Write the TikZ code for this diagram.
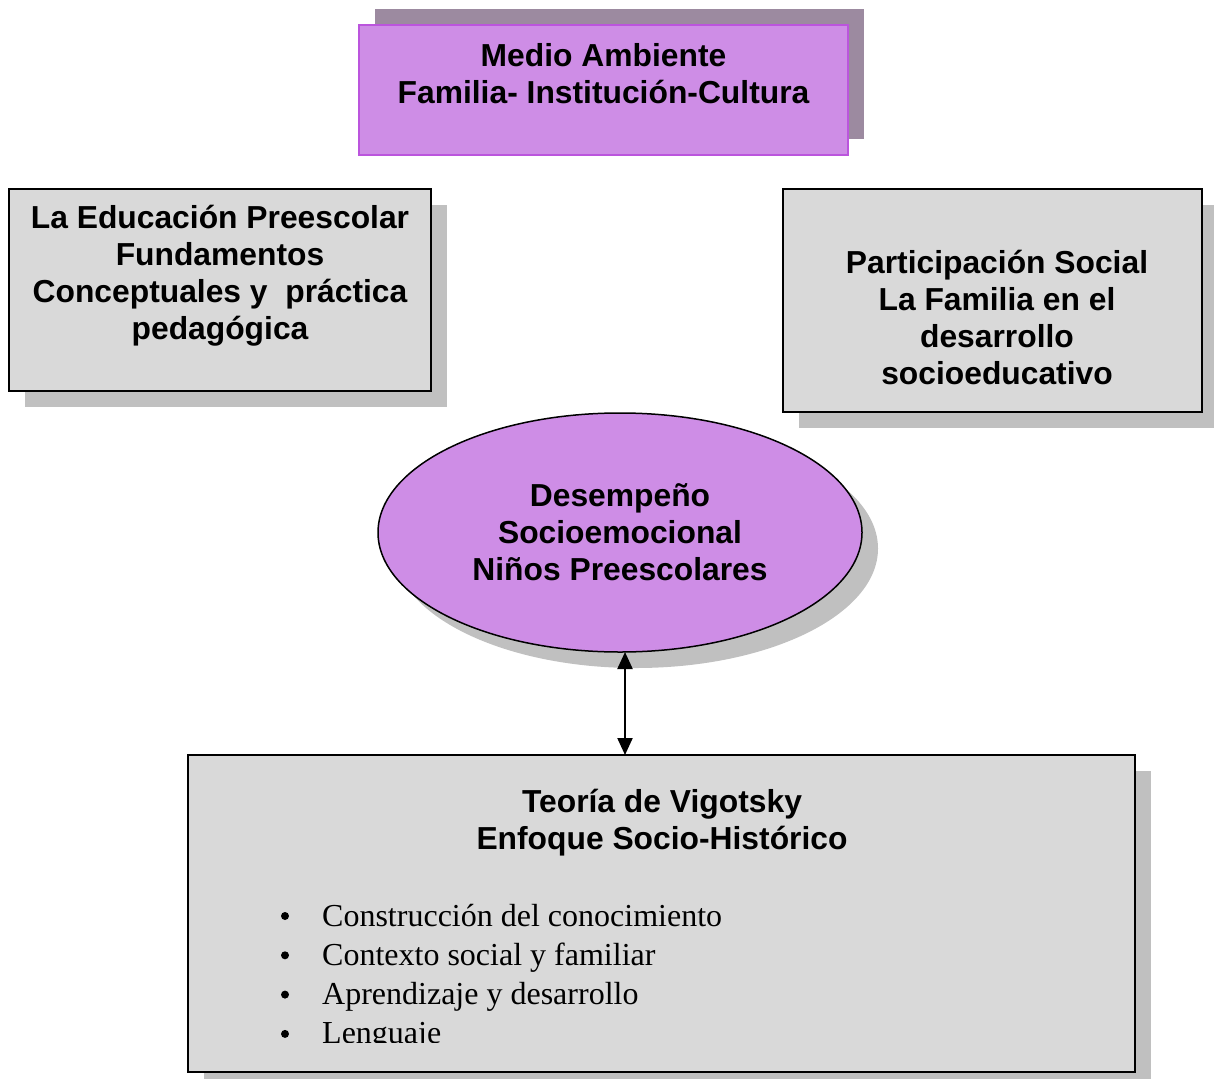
\documentclass[tikz,border=0pt]{standalone}
\usepackage{fontspec}
\setmainfont{Liberation Serif}
\setsansfont{Liberation Sans}
\usetikzlibrary{shapes.geometric,arrows.meta,shadows}
\definecolor{purplefill}{RGB}{206,141,230}
\definecolor{purpleline}{RGB}{187,85,221}
\definecolor{purpleshadow}{RGB}{156,138,160}
\definecolor{boxgray}{RGB}{217,217,217}
\definecolor{shadowgray}{RGB}{192,192,192}
\tikzset{
  graybox/.style={draw=black, line width=1.5pt, fill=boxgray, inner sep=0pt, outer sep=0pt,
    drop shadow={shadow xshift=16pt, shadow yshift=-16pt, fill=shadowgray, opacity=1}},
  topbox/.style={draw=purpleline, line width=2pt, fill=purplefill, inner sep=0pt, outer sep=0pt,
    drop shadow={shadow xshift=16pt, shadow yshift=16pt, fill=purpleshadow, opacity=1}},
  ellbox/.style={ellipse, draw=black, line width=1.5pt, fill=purplefill, inner sep=0pt, outer sep=0pt,
    drop shadow={shadow xshift=16pt, shadow yshift=-16pt, fill=shadowgray, opacity=1}},
  bold/.style={font=\sffamily\bfseries\fontsize{31.8}{37}\selectfont, align=center, inner sep=0pt},
  item/.style={font=\fontsize{32}{39}\selectfont, anchor=base west, inner sep=0pt},
  bul/.style={circle, fill=black, minimum size=8pt, inner sep=0pt},
  arr/.style={line width=2.2pt, {Triangle[width=15pt,length=17pt]}-{Triangle[width=15pt,length=17pt]}}
}
\begin{document}
\begin{tikzpicture}[x=1pt,y=-1pt]
\useasboundingbox (0,0) rectangle (1214,1078);
% boxes
\node[topbox, minimum width=489pt, minimum height=130pt] (top) at (603.5,90) {};
\node[graybox, minimum width=422pt, minimum height=202pt] (left) at (220,290) {};
\node[graybox, minimum width=419pt, minimum height=223pt] (right) at (992.5,300.5) {};
\node[ellbox, minimum width=484pt, minimum height=239pt] (ell) at (620,532.5) {};
\node[graybox, minimum width=947pt, minimum height=317pt] (bot) at (661.5,913.5) {};
% texts
\node[bold] (toptxt) at (603.5,74) {Medio Ambiente\\Familia- Institución-Cultura};
\node[bold] (lefttxt) at (220,276) {La Educación Preescolar\\Fundamentos\\Conceptuales y\ \ práctica\\pedagógica};
\node[bold] (righttxt) at (997,317) {Participación Social\\La Familia en el\\desarrollo\\socioeducativo};
\node[bold] (elltxt) at (620,532) {Desempeño\\Socioemocional\\Niños Preescolares};
\node[bold] (bottxt) at (662,823) {Teoría de Vigotsky\\Enfoque Socio-Histórico};
% list
\begin{scope}
\clip (0,0) rectangle (1214,1042);
\foreach \t [count=\i] in {Construcción del conocimiento, Contexto social y familiar, Aprendizaje y desarrollo, Lenguaje}{
  \node[bul] (b\i) at (285,{916+39.3*(\i-1)}) {};
  \node[item] (it\i) at (322,{926+39.3*(\i-1)}) {\t};
}
\end{scope}
% arrow
\draw[arr] ([xshift=5pt]ell.south) -- ([xshift=-36.5pt]bot.north);
\end{tikzpicture}
\end{document}
